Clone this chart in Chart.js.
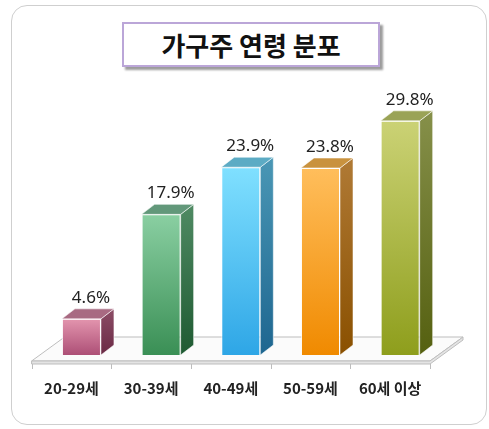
<!DOCTYPE html>
<html>
<head>
<meta charset="utf-8">
<script src="https://cdn.jsdelivr.net/npm/chart.js@4"></script>
<style>
  html, body { margin: 0; padding: 0; background: #fff; }
  #wrap { position: relative; width: 489px; height: 429px; overflow: hidden; }
  #frame {
    position: absolute; left: 11px; top: 5px; width: 474px; height: 418px;
    border: 1.5px solid #cfcfcf; border-radius: 16px; background: #fff;
  }
  #title {
    position: absolute; left: 122px; top: 22px; width: 254px; height: 41px;
    border: 2px solid #bba6d8; background: #fff;
    box-shadow: 3px 3px 2px #9c9c9c;
    font: bold 26px "Noto Sans CJK KR", sans-serif; color: #111;
    text-align: center; line-height: 41px;
  }
  #chart { position: absolute; left: 0; top: 0; }
</style>
</head>
<body>
<div id="wrap">
  <div id="frame"></div>
  <div id="title">가구주 연령 분포</div>
  <canvas id="chart" width="489" height="429"></canvas>
</div>
<script>
const categories = ['20-29세', '30-39세', '40-49세', '50-59세', '60세 이상'];
const shares = [4.6, 17.9, 23.9, 23.8, 29.8];
const shareLabels = ['4.6%', '17.9%', '23.9%', '23.8%', '29.8%'];

// 막대 색 (앞면 위/아래, 옆면 위/아래, 윗면)
const frontTop = ['#e395ae', '#8acfa2', '#80e0ff', '#ffbe5c', '#cbd275'];
const frontBot = ['#ad4f76', '#3a8f55', '#2ea6e6', '#f08a00', '#8e9e1c'];
const sideTop = ['#8c4d66', '#4f8a63', '#4a97b5', '#b07a35', '#86904a'];
const sideBot = ['#6a2a45', '#1f5a32', '#1e6690', '#8a5000', '#556010'];
const topFace = ['#a86a82', '#62987a', '#5cabc4', '#c9923e', '#9aa356'];

const DX = 13, DY = 10;

const floor3d = {
    id: 'floor3d',
    beforeDatasetsDraw(chart) {
        const { ctx, scales: { x, y } } = chart;
        const zero = y.getPixelForValue(0);
        const fy = zero + 6, by = zero - 18;
        const fl = x.left - 10, fr = x.right - 10;
        ctx.save();
        ctx.fillStyle = '#fbfbfb';
        ctx.strokeStyle = '#bdbdbd';
        ctx.lineWidth = 1;
        ctx.beginPath();
        ctx.moveTo(fl, fy);
        ctx.lineTo(fl + 33, by);
        ctx.lineTo(fr + 33, by);
        ctx.lineTo(fr, fy);
        ctx.closePath();
        ctx.fill();
        ctx.stroke();
        // 앞쪽 두께
        ctx.fillStyle = '#e4e4e4';
        ctx.beginPath();
        ctx.moveTo(fl, fy);
        ctx.lineTo(fr, fy);
        ctx.lineTo(fr + 33, by);
        ctx.lineTo(fr + 33, by + 3);
        ctx.lineTo(fr, fy + 3);
        ctx.lineTo(fl, fy + 3);
        ctx.closePath();
        ctx.fill();
        ctx.stroke();
        // 눈금
        const w = (x.right - x.left) / categories.length;
        ctx.beginPath();
        for (let i = 0; i <= categories.length; i++) {
            const tx = Math.round(fl + i * w) + 0.5;
            ctx.moveTo(tx, fy + 3);
            ctx.lineTo(tx, fy + 8);
        }
        ctx.stroke();
        ctx.restore();
    },
    afterDatasetsDraw(chart) {
        const { ctx } = chart;
        const meta = chart.getDatasetMeta(0);
        ctx.save();
        meta.data.forEach((bar, i) => {
            const r = bar.x + bar.width / 2, l = bar.x - bar.width / 2;
            const t = bar.y, b = bar.base;
            // 옆면
            const g = ctx.createLinearGradient(0, t - DY, 0, b);
            g.addColorStop(0, sideTop[i]);
            g.addColorStop(1, sideBot[i]);
            ctx.fillStyle = g;
            ctx.strokeStyle = 'rgba(255,255,255,0.55)';
            ctx.lineWidth = 1;
            ctx.beginPath();
            ctx.moveTo(r, t);
            ctx.lineTo(r + DX, t - DY);
            ctx.lineTo(r + DX, b - DY);
            ctx.lineTo(r, b);
            ctx.closePath();
            ctx.fill();
            ctx.stroke();
            // 윗면
            ctx.fillStyle = topFace[i];
            ctx.beginPath();
            ctx.moveTo(l, t);
            ctx.lineTo(l + DX, t - DY);
            ctx.lineTo(r + DX, t - DY);
            ctx.lineTo(r, t);
            ctx.closePath();
            ctx.fill();
            ctx.stroke();
            // 값 레이블
            ctx.fillStyle = '#222';
            ctx.font = '17px "Noto Sans", sans-serif';
            ctx.textAlign = 'center';
            ctx.textBaseline = 'middle';
            ctx.fillText(shareLabels[i], bar.x + 9.5, t - 21);
        });
        ctx.restore();
    }
};

new Chart(document.getElementById('chart'), {
    type: 'bar',
    data: {
        labels: categories,
        datasets: [{
            data: shares,
            backgroundColor(c) {
                const chart = c.chart;
                if (!chart.chartArea || c.dataIndex === undefined) return frontBot[0];
                const y = chart.scales.y;
                const top = y.getPixelForValue(shares[c.dataIndex]);
                const bot = y.getPixelForValue(0);
                const g = chart.ctx.createLinearGradient(0, top, 0, bot);
                g.addColorStop(0, frontTop[c.dataIndex]);
                g.addColorStop(1, frontBot[c.dataIndex]);
                return g;
            },
            borderColor: 'rgba(255,255,255,0.75)',
            borderWidth: 1,
            categoryPercentage: 1,
            barPercentage: 0.49
        }]
    },
    options: {
        responsive: false,
        animation: false,
        layout: { padding: { top: 80, left: 41.6, right: 49, bottom: 0 } },
        plugins: {
            legend: { display: false },
            title: { display: false },
            tooltip: { enabled: false }
        },
        scales: {
            x: {
                afterFit(scale) { scale.height = 74; },
                grid: { display: false },
                border: { display: false },
                ticks: {
                    labelOffset: -10,
                    padding: 16,
                    color: '#222',
                    font: { family: '"Noto Sans CJK KR", sans-serif', size: 15, weight: 'bold' }
                }
            },
            y: {
                display: false,
                min: 0,
                max: 35
            }
        }
    },
    plugins: [floor3d]
});
</script>
</body>
</html>
